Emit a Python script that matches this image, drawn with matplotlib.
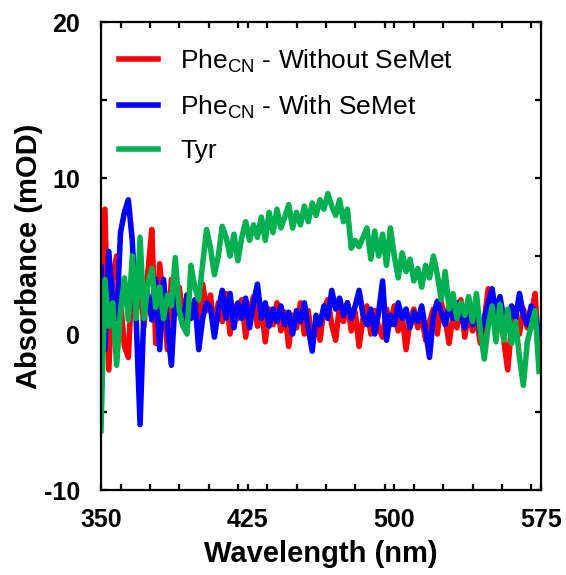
import matplotlib.pyplot as plt
import numpy as np
from matplotlib.ticker import MultipleLocator

plt.rcParams["font.family"] = ["Liberation Sans", "DejaVu Sans"]
plt.rcParams["axes.unicode_minus"] = False

# Wavelength grid (nm), one reading every 2 nm
wavelength = np.arange(350, 576, 2)

phe_without_semet = [
    2.0, 8.0, -2.3, 3.5, 5.0, 2.0, -0.8, -1.5, 3.9, 1.5,
    3.0, 0.5, 4.0, 6.7, -0.6, 4.5, 2.0, -1.0, 3.5, 1.3,
    3.0, 1.0, 2.5, 1.2, 2.0, 0.5, 3.2, 1.5, 2.5, 0.2,
    2.0, 0.8, 2.6, 0.0, 1.8, 1.0, 2.2, -0.2, 1.5, 2.4,
    0.5, 1.8, -0.5, 1.6, 0.6, 2.0, 0.2, 1.4, -0.8, 1.2,
    0.4, 2.0, 0.0, 1.5, -0.6, 0.8, -0.4, 1.6, 2.2, 0.6,
    -0.4, 1.8, 0.8, 2.0, 0.2, 1.4, -0.8, 1.0, 1.8, 0.0,
    1.5, 0.4, -0.2, 1.6, 0.6, 1.8, 0.2, 1.2, -1.0, 0.8,
    1.6, 0.4, 1.2, -0.4, 0.8, 1.6, 0.0, 2.0, 1.0, -0.6,
    1.2, 0.4, 2.2, -0.2, 1.4, 0.2, 1.0, -0.6, 0.8, 2.9,
    1.2, 0.4, 1.8, -0.4, -2.3, 0.6, 1.4, 0.0, 1.6, 0.4,
    1.2, 2.6, -1.7,
]

phe_with_semet = [
    4.3, -1.0, 5.3, 2.0, 1.0, 6.5, 7.8, 8.6, 6.0, 0.9,
    -5.8, 1.7, 2.5, 0.9, 3.5, -1.0, 3.5, 0.5, -2.0, 2.4,
    1.5, 0.5, 2.5, 1.0, 2.2, -1.0, 1.0, 2.0, 1.7, -0.2,
    1.5, 2.8, 1.0, 2.6, 0.4, 2.0, 1.0, 2.3, 0.4, 2.0,
    3.2, 1.0, 2.0, 0.5, 1.6, 0.8, 1.8, 0.6, 1.4, 0.0,
    1.5, 0.8, 2.0, 0.4, -1.1, 1.2, 0.6, 1.8, 1.0, 2.8,
    1.6, 2.3, 1.2, 2.0, 1.0, 1.8, 2.8, 1.2, 0.6, 1.6,
    0.0, 1.4, 3.4, -0.4, 1.2, 0.6, 2.0, 1.0, 1.6, 0.4,
    1.4, 0.8, 1.8, 0.2, -1.5, 1.2, 2.1, 1.4, 0.6, 1.8,
    1.0, 2.0, 1.2, 0.4, 1.6, 0.6, 1.4, 0.0, 1.0, 2.0,
    2.9, 1.2, 2.4, 1.0, 0.4, 1.8, 1.0, 2.6, 1.2, 0.6,
    1.8, 1.4, -0.1,
]

tyr = [
    -6.2, 3.5, 0.5, 2.0, -2.0, 1.5, 3.6, 0.9, 5.0, 1.0,
    6.2, 1.0, 3.2, 4.2, 1.7, 3.0, 1.0, 2.5, 1.8, 4.9,
    1.5, 0.5, 0.0, 4.4, 3.0, 2.2, 4.5, 6.7, 5.5, 3.8,
    5.0, 6.9, 6.2, 5.0, 6.4, 4.7, 6.2, 7.2, 6.0, 7.0,
    6.2, 7.5, 6.0, 7.8, 6.5, 8.0, 6.8, 7.5, 8.3, 6.8,
    7.8, 7.0, 8.2, 7.2, 8.4, 7.6, 8.6, 8.0, 9.0, 8.2,
    7.6, 8.6, 7.2, 8.0, 5.5, 6.0, 5.6, 6.2, 6.8, 4.8,
    6.6, 5.0, 6.4, 4.4, 6.8, 5.0, 3.6, 5.2, 4.0, 4.8,
    3.4, 4.2, 3.0, 4.4, 3.6, 5.0, 3.8, 2.2, 4.0, 1.6,
    2.6, 1.0, 2.0, 1.2, 2.4, 0.8, 2.6, 0.2, -1.6, 0.5,
    1.8, -0.5, 1.9, -0.4, 1.6, -0.6, 0.8, -1.5, -3.3, -0.5,
    0.5, 1.5, -2.4,
]

series_labels = [
    r"Phe$_{\mathregular{CN}}$ - Without SeMet",
    r"Phe$_{\mathregular{CN}}$ - With SeMet",
    "Tyr",
]
series_colors = ["#ff0000", "#0000ff", "#00b050"]

fig = plt.figure(figsize=(5.66, 5.75), dpi=100)
ax = fig.add_axes([0.1784, 0.1478, 0.7774, 0.8139])

for values, label, color in zip(
    [phe_without_semet, phe_with_semet, tyr], series_labels, series_colors
):
    ax.plot(wavelength, values, color=color, linewidth=4.0, label=label,
            solid_joinstyle="round")

ax.set_xlim(350, 575)
ax.set_ylim(-10, 20)
ax.set_xticks([350, 425, 500, 575])
ax.xaxis.set_minor_locator(MultipleLocator(15))
ax.set_yticks([-10, 0, 10, 20])
ax.yaxis.set_minor_locator(MultipleLocator(5))

ax.tick_params(which="both", direction="in", top=True, right=True,
               width=1.6, length=4.5)
ax.tick_params(which="major", labelsize=18)
ax.tick_params(axis="x", which="major", pad=13)
ax.tick_params(axis="y", which="major", pad=15)
for lbl in ax.get_xticklabels() + ax.get_yticklabels():
    lbl.set_fontweight("bold")
for spine in ax.spines.values():
    spine.set_linewidth(1.6)

ax.set_xlabel("Wavelength (nm)", fontsize=21, fontweight="bold", labelpad=6)
ax.set_ylabel("Absorbance (mOD)", fontsize=21, fontweight="bold", labelpad=1)

ax.legend(loc="upper left", frameon=False, fontsize=19, handlelength=1.45,
          handletextpad=0.85, labelspacing=0.7, borderaxespad=0.3,
          bbox_to_anchor=(0.0, 0.985))

fig.savefig("out.png", dpi=100)
